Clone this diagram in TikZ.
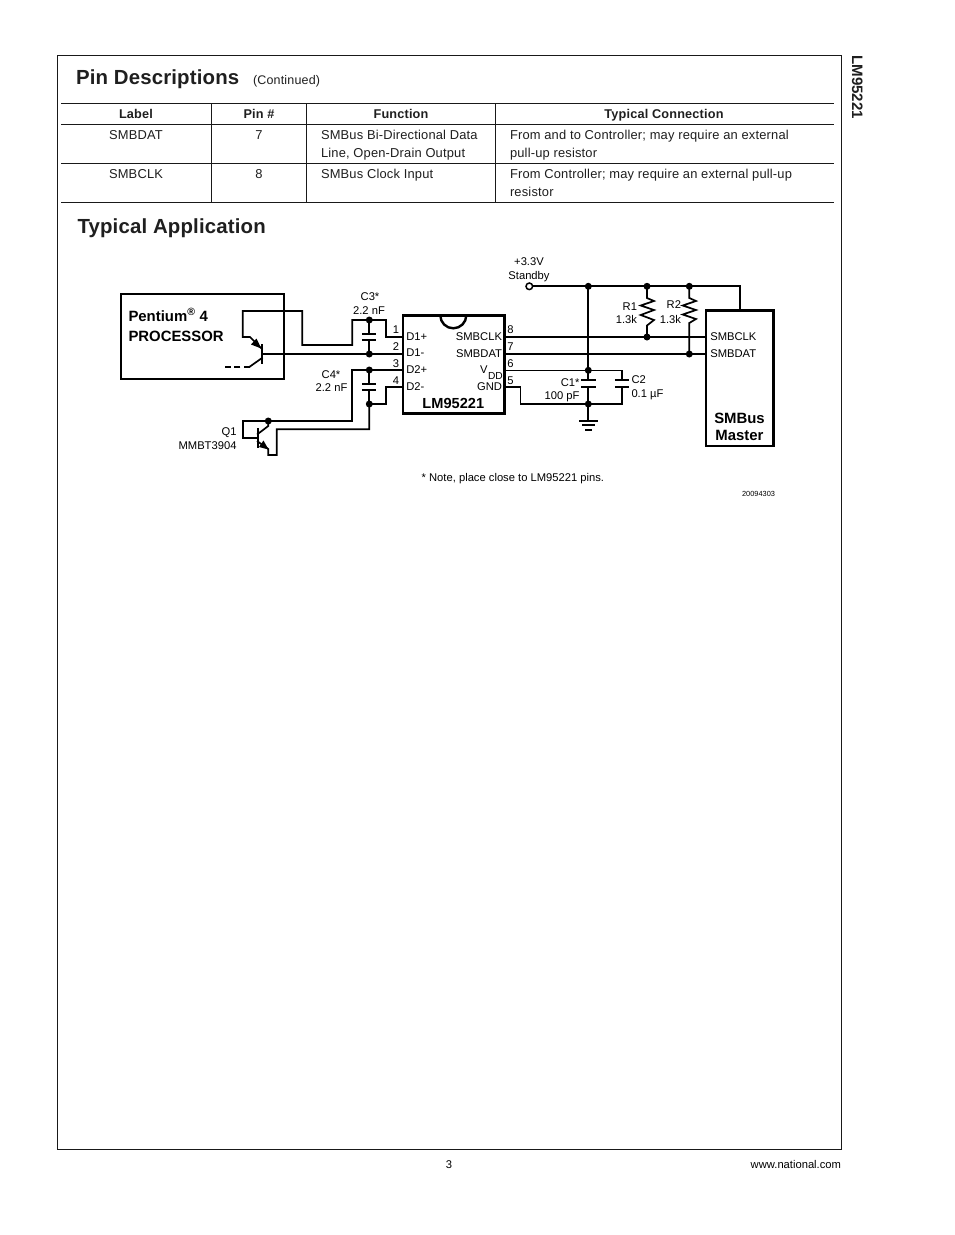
\documentclass[tikz,border=0pt]{standalone}
\usepackage{fontspec}
\setmainfont{Liberation Sans}
\newfontfamily\spaced[LetterSpace=1.4]{Liberation Sans}
\newfontfamily\titlef[LetterSpace=0.8]{Liberation Sans}
\newfontfamily\plainf{Liberation Sans}
\tikzset{
  x=1pt,y=-1pt,
  txt/.style={inner sep=0pt,outer sep=0pt,anchor=base west,text=black!88},
  tl/.style={txt,font=\fontsize{12.9}{14}\selectfont\spaced},
  tm/.style={tl,anchor=base},
  th/.style={txt,anchor=base,font=\fontsize{12.7}{14}\selectfont\spaced\bfseries},
  title/.style={txt,font=\fontsize{20.4}{22}\selectfont\titlef\bfseries},
  dl/.style={inner sep=0pt,outer sep=0pt,anchor=base west,font=\fontsize{11.2}{12}\selectfont\plainf},
  dlc/.style={dl,anchor=base},
  dlr/.style={dl,anchor=base east},
  db/.style={dl,font=\fontsize{14.9}{16}\selectfont\plainf\bfseries},
  dbc/.style={db,anchor=base},
  rule/.style={line width=0.9pt,black!90},
  wire/.style={line width=1.7pt,line cap=rect,line join=miter},
  hwire/.style={line width=2pt,line cap=rect},
  thinw/.style={line width=1.3pt,line cap=rect,line join=miter},
  box/.style={line width=2.4pt,line join=miter},
  plate/.style={line width=2pt},
  jdot/.style={fill=black},
}
\newcommand{\jn}[1]{\fill[jdot] (#1) circle (3.5);}
\begin{document}
\begin{tikzpicture}
\useasboundingbox (0,0) rectangle (954,1235);
\fill[white] (0,0) rectangle (954,1235);
% frame and table
\coordinate (fa) at (57,55); \coordinate (fb) at (841,1149);
\draw[rule] (fa) rectangle (fb);
\foreach \n/\y in {t0/103,t1/124,t2/163,t3/202}{
  \coordinate (\n l) at (61,\y); \coordinate (\n r) at (834,\y);
  \draw[rule] (\n l) -- (\n r);}
\foreach \n/\x in {v1/211,v2/306,v3/495}{
  \coordinate (\n a) at (\x,103); \coordinate (\n b) at (\x,202);
  \draw[rule] (\n a) -- (\n b);}
\node[title] (tpin) at (76,84) {Pin Descriptions};
\node[tl,font=\fontsize{12.5}{14}\selectfont\spaced] (tcont) at (253,84) {(Continued)};
\node[title] (ttyp) at (77.5,233) {Typical Application};
\node[th] (h1) at (136,118) {Label};
\node[th] (h2) at (259,118) {Pin \#};
\node[th] (h3) at (401,118) {Function};
\node[th] (h4) at (664,118) {Typical Connection};
\node[tm] (a1) at (136,139) {SMBDAT};
\node[tm] (a2) at (259,139) {7};
\node[tl] (a3) at (321,139) {SMBus Bi-Directional Data};
\node[tl] (a3b) at (321,157) {Line, Open-Drain Output};
\node[tl] (a4) at (510,139) {From and to Controller; may require an external};
\node[tl] (a4b) at (510,157) {pull-up resistor};
\node[tm] (b1) at (136,178) {SMBCLK};
\node[tm] (b2) at (259,178) {8};
\node[tl] (b3) at (321,178) {SMBus Clock Input};
\node[tl] (b4) at (510,178) {From Controller; may require an external pull-up};
\node[tl] (b4b) at (510,196) {resistor};
\node[inner sep=0pt,anchor=base west,rotate=-90,text=black!88,font=\fontsize{15.1}{16}\selectfont\plainf\bfseries] (side) at (852,55) {LM95221};
\node[dlc] (pg) at (449,1168) {3};
\node[dlr] (web) at (841,1168) {www.national.com};
% boxes
\coordinate (pa) at (120.7,294); \coordinate (pb) at (283.7,378.7);
\draw[box] (pa) rectangle (pb);
\coordinate (ca) at (402.7,315.3); \coordinate (cb) at (504.3,413.3);
\draw[box] (ca) rectangle (cb);
\coordinate (ma) at (706,310.5); \coordinate (mb) at (773.5,445.7);
\draw[box] (ma) rectangle (mb);
\coordinate (na) at (440.3,315.3);
\draw[line width=2.4pt] (na) arc[start angle=180,end angle=0,radius=13];
% coordinates
\coordinate (L1) at (403,337); \coordinate (L2) at (403,354);
\coordinate (L3) at (403,370); \coordinate (L4) at (403,387);
\coordinate (R8) at (504,337); \coordinate (R7) at (504,354);
\coordinate (R6) at (504,370.3); \coordinate (R5) at (504,387);
\coordinate (M8) at (706,337); \coordinate (M7) at (706,354);
\coordinate (c3t) at (369.3,320); \coordinate (c3b) at (369.3,354);
\coordinate (c4t) at (369.3,370); \coordinate (c4b) at (369.3,404);
\coordinate (c3p1) at (369.3,334); \coordinate (c3p2) at (369.3,340);
\coordinate (c4p1) at (369.3,384); \coordinate (c4p2) at (369.3,390);
\coordinate (q1c) at (268.3,421);
% processor transistor
\coordinate (pc1) at (242.7,337); \coordinate (pe) at (250,337);
\coordinate (pbar1) at (262,345); \coordinate (pbar2) at (262,362.7);
\coordinate (pbm) at (262,354); \coordinate (pem) at (262,349);
\coordinate (pcm) at (262,358); \coordinate (pce) at (250,366.5);
\coordinate (pds) at (225,366.5);
\coordinate (ptop) at (242.7,311);
\draw[wire] (c3t) -| (352.3,345) -| (302.3,311) -- (ptop) -- (pc1) -- (pe) -- (pem);
\draw[wire] (pbar1) -- (pbar2);
\draw[wire] (pbm) -- (c3b) -- (L2);
\draw[wire] (pcm) -- (pce);
\draw[line width=2pt,dash pattern=on 6.5pt off 3.2pt] (pce) -- (pds);
\fill (261.3,348.5) -- (251,344.5) -- (256.5,338.5) -- cycle;
% C3, C4
\draw[wire] (c3t) -- (c3p1); \draw[wire] (c3p2) -- (c3b);
\draw[wire] (c3t) -- (386,320) -- (386,337) -- (L1);
\foreach \n in {c3p1,c3p2,c4p1,c4p2}{
  \draw[plate] ([xshift=-7]\n) -- ([xshift=7]\n);}
\draw[wire] (c4t) -- (c4p1); \draw[wire] (c4p2) -- (c4b);
\draw[wire] (L3) -- (c4t) -- (352.3,370) -- (352.3,421) -- (q1c);
\draw[wire] (L4) -- (386,387) -- (386,404) -- (c4b);
% Q1
\coordinate (qbl) at (242.7,421); \coordinate (qbl2) at (242.7,438.3);
\coordinate (qb) at (257.7,438.3);
\coordinate (qb1) at (257.7,429); \coordinate (qb2) at (257.7,447);
\coordinate (qcd) at (268.3,426); \coordinate (qc0) at (257.7,434);
\coordinate (qe0) at (257.7,441.5); \coordinate (qed) at (268.3,449);
\draw[wire] (q1c) -- (qbl) -- (qbl2) -- (qb);
\draw[wire] (qb1) -- (qb2);
\draw[wire] (qc0) -- (qcd) -- (q1c);
\draw[wire] (qe0) -- (qed) -- (268.3,455) -- (276.7,455) -- (276.7,429.3) -- (369.3,429.3) -- (c4b);
\fill (268.5,449.5) -- (259,447) -- (263.5,440.5) -- cycle;
% right side
\coordinate (vcc) at (529.3,286.3); \coordinate (j1) at (588.3,286.3);
\coordinate (j2) at (647,286.3); \coordinate (j3) at (689.3,286.3);
\coordinate (vm) at (740,286.3); \coordinate (vmb) at (740,310.5);
\coordinate (j4) at (588.3,370.3); \coordinate (j5) at (588.3,404);
\coordinate (r1j) at (647,337); \coordinate (r2j) at (689.3,354);
\coordinate (c1p1) at (588.3,380); \coordinate (c1p2) at (588.3,387.3);
\coordinate (c2p1) at (622,380); \coordinate (c2p2) at (622,387.3);
\draw[wire] (vcc) -- (j1) -- (j2) -- (j3) -- (vm) -- (vmb);
\draw[hwire] (j1) -- (j4) -- (c1p1);
\draw[hwire] (c1p2) -- (j5) -- (588.3,420.7);
\draw[wire] (R8) -- (r1j) -- (M8);
\draw[wire] (R7) -- (r2j) -- (M7);
\draw[thinw] (R6) -- (j4) -- (622,370.3) -- (c2p1);
\draw[thinw] (c2p2) -- (622,404) -- (j5) -- (520.7,404) -- (520.7,387) -- (R5);
\foreach \n in {c1p1,c1p2,c2p1,c2p2}{
  \draw[plate] ([xshift=-7.2]\n) -- ([xshift=7.2]\n);}
\draw[plate] (579,420.7) -- (597.5,420.7);
\draw[plate] (582,425.2) -- (594.5,425.2);
\draw[plate] (585,429.7) -- (591.5,429.7);
\draw[wire] (j2) -- (647,298) -- (654,301) -- (640.7,305.5) -- (654,310) -- (640.7,315) -- (654,320) -- (647,325.5) -- (r1j);
\draw[wire] (j3) -- (689.3,298) -- (696,301) -- (682.7,305.5) -- (696,310) -- (682.7,314.5) -- (696,319) -- (689.3,323) -- (r2j);
\draw[line width=1.5pt,fill=white] (vcc) circle (3.3);
\foreach \n in {c3t,c3b,c4t,c4b,q1c,j1,j2,j3,j4,j5,r1j,r2j}{\jn{\n}}
% labels
\node[db] (lp1) at (128.5,321) {Pentium\textsuperscript{\fontsize{10.5}{10}\selectfont\textregistered} 4};
\node[db] (lp2) at (128.5,341) {PROCESSOR};
\node[dlc] (lc3) at (370,300.7) {C3*};
\node[dlc] (lc3v) at (369,314) {2.2 nF};
\node[dlc] (lc4) at (331,378.3) {C4*};
\node[dlc] (lc4v) at (331.5,391.7) {2.2 nF};
\node[dlr] (lq1) at (236.5,435) {Q1};
\node[dlr] (lq1v) at (236.5,449) {MMBT3904};
\node[dlc] (n1) at (396,333.3) {1};
\node[dlc] (n2) at (396,350) {2};
\node[dlc] (n3) at (396,367) {3};
\node[dlc] (n4) at (396,384) {4};
\node[dl] (d1p) at (406.3,340) {D1+};
\node[dl] (d1m) at (406.3,356.7) {D1-};
\node[dl] (d2p) at (406.3,373.7) {D2+};
\node[dl] (d2m) at (406.3,390.3) {D2-};
\node[dlr] (sc) at (502,340) {SMBCLK};
\node[dlr] (sd) at (502,357) {SMBDAT};
\node[dl] (vv) at (480,373.3) {V};
\node[dl,font=\fontsize{10.2}{12}\selectfont\plainf] (vdd) at (488,379.5) {DD};
\node[dlr] (gnd) at (502,390.7) {GND};
\node[dlc] (n8) at (510.5,333.3) {8};
\node[dlc] (n7) at (510.5,350) {7};
\node[dlc] (n6) at (510.5,367) {6};
\node[dlc] (n5) at (510.5,384) {5};
\node[dbc,font=\fontsize{14.6}{16}\selectfont\plainf\bfseries] (chipn) at (453.3,408.3) {LM95221};
\node[dlc] (v33) at (529,265.7) {+3.3V};
\node[dlc] (stb) at (529,279.3) {Standby};
\node[dlr] (r1l) at (637,310.5) {R1};
\node[dlr] (r1v) at (637,323.7) {1.3k};
\node[dlr] (r2l) at (681,308.5) {R2};
\node[dlr] (r2v) at (681,323.7) {1.3k};
\node[dlr] (c1l) at (579.5,386) {C1*};
\node[dlr] (c1v) at (579.5,399.3) {100 pF};
\node[dl] (c2l) at (631.5,383.5) {C2};
\node[dl] (c2v) at (631.5,397.3) {0.1 µF};
\node[dl] (ms) at (710.3,340.7) {SMBCLK};
\node[dl] (md) at (710.3,357) {SMBDAT};
\node[dbc] (m1) at (739.5,423.3) {SMBus};
\node[dbc] (m2) at (739.5,440.7) {Master};
\node[dl] (note) at (421.7,481.7) {* Note, place close to LM95221 pins.};
\node[dlr,font=\fontsize{7.4}{9}\selectfont\plainf] (fig) at (775,496.7) {20094303};
\end{tikzpicture}
\end{document}
